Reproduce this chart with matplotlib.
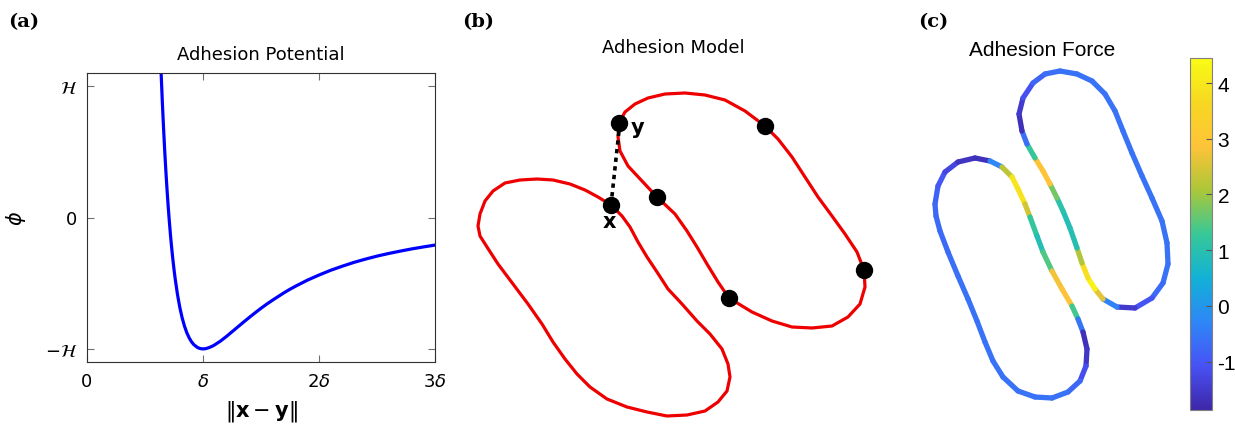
import numpy as np
import matplotlib
matplotlib.use('Agg')
import matplotlib.pyplot as plt
from matplotlib.collections import LineCollection
from matplotlib.colors import LinearSegmentedColormap, Normalize

plt.rcParams['mathtext.fontset'] = 'dejavusans'

# (a) adhesion potential, distance in units of delta, phi in units of H
dist = [0.63, 0.64, 0.65, 0.66, 0.67, 0.68, 0.69, 0.70, 0.71, 0.72, 0.73, 0.74, 0.75,
        0.76, 0.78, 0.80, 0.82, 0.84, 0.86, 0.88, 0.90, 0.92, 0.95, 0.97, 0.99, 1.00,
        1.02, 1.05, 1.08, 1.10, 1.15, 1.20, 1.25, 1.30, 1.35, 1.40, 1.45, 1.50, 1.55,
        1.60, 1.70, 1.75, 1.80, 1.90, 2.00, 2.10, 2.20, 2.30, 2.40, 2.50, 2.60, 2.70,
        2.80, 2.90, 3.00]
phi = [1.309, 1.078, 0.868, 0.679, 0.507, 0.352, 0.211, 0.083, -0.032, -0.137, -0.232,
       -0.317, -0.395, -0.465, -0.586, -0.684, -0.763, -0.826, -0.876, -0.915, -0.945,
       -0.967, -0.988, -0.996, -1.000, -1.000, -0.999, -0.991, -0.980, -0.970, -0.941,
       -0.907, -0.870, -0.833, -0.796, -0.760, -0.725, -0.691, -0.659, -0.629, -0.572,
       -0.546, -0.522, -0.477, -0.438, -0.402, -0.371, -0.342, -0.317, -0.294, -0.274,
       -0.256, -0.239, -0.224, -0.210]
xtick_vals = [0, 1, 2, 3]
xtick_labels = ['0', r'$\delta$', r'2$\delta$', r'3$\delta$']
ytick_vals = [-1, 0, 1]
ytick_labels = [r'$-\mathcal{H}$', '0', r'$\mathcal{H}$']

# (b) adhesion model: two cell outlines (image coordinates)
cell1_x = [478, 480, 485, 493, 505, 520, 537, 553, 570, 585, 598, 611, 622, 630, 638,
           647, 657, 668, 682, 697, 710, 722, 728, 730, 727, 718, 705, 687, 667, 647,
           627, 607, 590, 577, 565, 553, 542, 528, 513, 498, 487, 480]
cell1_y = [227, 215, 202, 192, 184, 181, 180, 181, 185, 191, 198, 206, 217, 228, 243,
           258, 273, 290, 305, 322, 335, 350, 365, 378, 392, 403, 412, 416, 417, 413,
           408, 400, 388, 375, 360, 343, 325, 305, 285, 265, 248, 237]
cell2_x = [619, 625, 635, 648, 665, 685, 705, 725, 745, 765, 778, 792, 805, 818, 832,
           845, 857, 864, 865, 860, 848, 832, 812, 792, 772, 752, 729, 718, 707, 697,
           687, 675, 657, 642, 628, 620, 618]
cell2_y = [124, 113, 105, 99, 95, 94, 96, 101, 112, 127, 140, 158, 178, 198, 217,
           235, 253, 271, 288, 305, 318, 327, 329, 328, 322, 313, 299, 283, 265, 248,
           232, 215, 198, 182, 167, 152, 138]
node_x = [611, 619, 765, 657, 864, 729]
node_y = [206, 124, 127, 198, 271, 299]

# (c) adhesion force along the two outlines
f1_x = [935, 938, 945, 958, 975, 990, 1002, 1012, 1018, 1025, 1030, 1037, 1043, 1052,
        1062, 1072, 1078, 1083, 1087, 1086, 1080, 1068, 1052, 1035, 1018, 1003, 993,
        985, 977, 968, 958, 948, 940, 936]
f1_y = [205, 187, 173, 163, 159, 162, 168, 178, 190, 205, 218, 237, 253, 272,
        290, 307, 320, 333, 350, 367, 382, 393, 399, 398, 392, 378, 362,
        343, 322, 300, 277, 253, 232, 217]
f1_val = [-0.8, -0.9, -1.1, -1.5, -1.7, -1.6, 1.0, 3.5, 4.4, 3.4, 1.5, 0.9, 0.9, 2.0,
          3.5, 2.2, 0.5, -1.6, -1.7, -1.4, -0.9, -0.6, -0.6, -0.6, -0.6, -0.6, -0.6,
          -0.6, -0.6, -0.6, -0.6, -0.7, -0.7, -0.7]
f2_x = [1060, 1077, 1092, 1105, 1115, 1123, 1132, 1142, 1152, 1162, 1167, 1168, 1163,
        1152, 1135, 1117, 1103, 1095, 1088, 1082, 1077, 1070, 1063, 1057, 1050, 1043,
        1035, 1027, 1022, 1019, 1023, 1033, 1045]
f2_y = [72, 75, 82, 95, 112, 132, 154, 177, 199, 222, 244, 265, 284,
        299, 309, 308, 300, 290, 279, 264, 249, 229, 212, 199, 185, 172,
        159, 145, 132, 115, 99, 84, 75]
f2_val = [-0.6, -0.6, -0.6, -0.6, -0.6, -0.6, -0.6, -0.6, -0.6, -0.6, -0.6, -0.6, -0.6,
          -0.8, -1.3, -1.7, 1.0, 4.2, 4.3, 3.3, 1.0, 0.9, 0.9, 1.2, 2.2, 3.5,
          2.2, 0.3, -1.6, -1.7, -1.3, -0.9, -0.7]
force_min, force_max = -1.87, 4.45
cbar_ticks = [-1, 0, 1, 2, 3, 4]

parula = LinearSegmentedColormap.from_list('parula', [
    (0.000, (0.2422, 0.1504, 0.6603)),
    (0.125, (0.2810, 0.3228, 0.9579)),
    (0.250, (0.1786, 0.5289, 0.9682)),
    (0.375, (0.0689, 0.6948, 0.8394)),
    (0.500, (0.2161, 0.7843, 0.5923)),
    (0.625, (0.6720, 0.7793, 0.2227)),
    (0.750, (0.9970, 0.7659, 0.2199)),
    (0.875, (0.9657, 0.8466, 0.1304)),
    (1.000, (0.9769, 0.9839, 0.0805))])

W, H = 1235, 431
fig = plt.figure(figsize=(W / 100, H / 100), dpi=100)

def rect(x0, y0, x1, y1):
    return [x0 / W, 1 - y1 / H, (x1 - x0) / W, (y1 - y0) / H]

# ---- panel (a)
ax = fig.add_axes(rect(87, 74, 435, 363))
ax.plot(dist, phi, color='#0000ff', lw=2.3, solid_joinstyle='round')
ax.set_xlim(0, 3)
ax.set_ylim(-1.1, 1.1)
ax.set_xticks(xtick_vals, xtick_labels)
ax.set_yticks(ytick_vals, ytick_labels)
ax.tick_params(direction='in', top=True, right=True, length=5, color='#707070',
               labelsize=13, pad=7)
for s in ax.spines.values():
    s.set_color('#303030')
ax.set_xlabel(r'$\|\mathbf{x}-\mathbf{y}\|$', fontsize=15, labelpad=6)
ax.set_ylabel(r'$\phi$', fontsize=15, labelpad=12)
ax.set_title('Adhesion Potential', fontsize=13, pad=10)
fig.text(8 / W, 1 - 22 / H, '(a)', fontsize=14, fontweight='bold', family='DejaVu Serif',
         va='center')

# ---- panel (b)
bx = fig.add_axes(rect(460, 60, 900, 431))
bx.set_xlim(460, 900)
bx.set_ylim(431, 60)
bx.axis('off')
bx.fill(cell1_x, cell1_y, fill=False, ec='#ee0000', lw=2.3, joinstyle='round')
bx.fill(cell2_x, cell2_y, fill=False, ec='#ee0000', lw=2.3, joinstyle='round')
bx.plot([node_x[0], node_x[1]], [node_y[0], node_y[1] + 8], ls=(0, (1.2, 1.2)),
        color='black', lw=2.6)
bx.plot(node_x, node_y, 'o', color='black', ms=11.5)
bx.text(node_x[1] + 12, node_y[1] + 4, 'y', fontsize=15, fontweight='bold', va='center')
bx.text(node_x[0] - 2, node_y[0] + 16, 'x', fontsize=15, fontweight='bold',
        va='center', ha='center')
fig.text(462 / W, 1 - 22 / H, '(b)', fontsize=14, fontweight='bold', family='DejaVu Serif',
         va='center')
fig.text(673 / W, 1 - 48 / H, 'Adhesion Model', fontsize=13, ha='center', va='center')

# ---- panel (c)
cx = fig.add_axes(rect(905, 60, 1185, 431))
cx.set_xlim(905, 1185)
cx.set_ylim(431, 60)
cx.axis('off')
norm = Normalize(force_min, force_max)
for xs, ys, vs in [(f1_x, f1_y, f1_val), (f2_x, f2_y, f2_val)]:
    pts = np.column_stack([xs + xs[:1], ys + ys[:1]])
    vv = np.array(vs + vs[:1], dtype=float)
    segs = np.stack([pts[:-1], pts[1:]], axis=1)
    lc = LineCollection(segs, cmap=parula, norm=norm, linewidths=3.8,
                        capstyle='round', joinstyle='round')
    lc.set_array((vv[:-1] + vv[1:]) / 2)
    cx.add_collection(lc)
fig.text(918 / W, 1 - 22 / H, '(c)', fontsize=14, fontweight='bold', family='DejaVu Serif',
         va='center')
fig.text(1042 / W, 1 - 50 / H, 'Adhesion Force', fontsize=15, ha='center', va='center',
         family='Liberation Sans')

cax = fig.add_axes(rect(1190, 59, 1212, 411))
sm = plt.cm.ScalarMappable(norm=norm, cmap=parula)
cb = fig.colorbar(sm, cax=cax, ticks=cbar_ticks)
cb.ax.set_yticklabels([str(t) if t >= 0 else '-' + str(-t) for t in cbar_ticks])
cb.ax.tick_params(direction='in', length=4, color='#555555', labelsize=15, pad=4)
for lab in cb.ax.get_yticklabels():
    lab.set_family('Liberation Sans')
cb.outline.set_edgecolor('#808080')

fig.savefig('out.png', dpi=100)
